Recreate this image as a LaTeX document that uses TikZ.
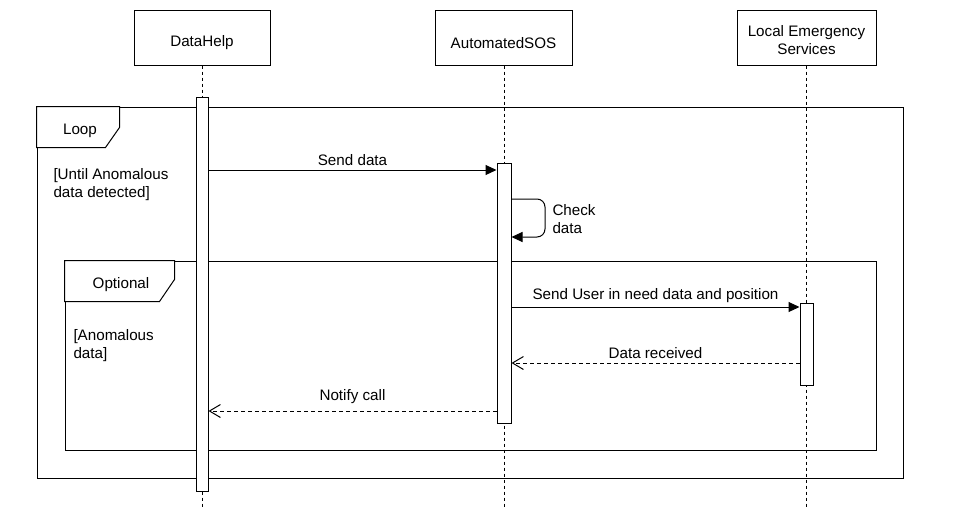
\documentclass[tikz,border=0pt]{standalone}
\usepackage{fontspec}
\setmainfont{Liberation Sans}
\usetikzlibrary{arrows.meta}
\begin{document}
\begin{tikzpicture}[x=1pt,y=-1pt,line width=1pt,
  txt/.style={font=\fontsize{15.2}{18}\selectfont, inner sep=0pt},
  actor/.style={draw, fill=white, minimum height=55pt, inner sep=0pt},
  bar/.style={draw, fill=white, inner sep=0pt},
  life/.style={dash pattern=on 3pt off 3pt},
  frame/.style={draw, inner sep=0pt},
  tab/.style={draw, fill=white},
  msg/.style={-{Triangle[length=11pt,width=10pt]}},
  reply/.style={dash pattern=on 4pt off 3pt, -{Straight Barb[length=11pt,width=13pt]}},
  mlabel/.style={txt, above=4pt}]
\useasboundingbox (0,0) rectangle (971,509);

% frames
\node[frame, minimum width=866pt, minimum height=371pt] (loop) at (470,292.5) {};
\draw[tab] (loop.north west) -- ++(83,0) -- ++(0,21) -- ++(-14,20) -- ++(-69,0) -- cycle;
\node[txt] (loopTitle) at (80,131) {Loop};
\node[txt, anchor=north west, align=left] (loopGuard) at (53,168) {[Until Anomalous\\data detected]};

\node[frame, minimum width=811pt, minimum height=189pt] (opt) at (470.5,355.5) {};
\draw[tab] (opt.north west) -- ++(110,0) -- ++(0,19) -- ++(-15,22) -- ++(-95,0) -- cycle;
\node[txt] (optTitle) at (121,285) {Optional};
\node[txt, anchor=north west, align=left] (optGuard) at (73,329) {[Anomalous\\data]};

% actors
\node[actor, minimum width=136pt] (dh) at (202,37.5) {};
\node[actor, minimum width=137pt] (sos) at (503.5,37.5) {};
\node[actor, minimum width=139pt] (les) at (806.5,37.5) {};
\node[txt] (dhT) at (202,43) {DataHelp};
\node[txt] (sosT) at (503.5,43) {AutomatedSOS};
\node[txt, align=center] (lesT) at (806.5,40.5) {Local Emergency\\Services};

% lifelines
\coordinate (dhEnd) at (202,509);
\coordinate (sosEnd) at (504,509);
\coordinate (lesEnd) at (806.5,509);
\draw[life] (dh.south) -- (dhEnd);
\draw[life] (sos.south -| sosEnd) -- (sosEnd);
\draw[life] (les.south) -- (lesEnd);

% activations
\node[bar, minimum width=12pt, minimum height=394pt] (dhAct) at (202,294) {};
\node[bar, minimum width=14pt, minimum height=260pt] (sosAct) at (504,293) {};
\node[bar, minimum width=13pt, minimum height=82pt] (lesAct) at (806.5,344) {};

% message levels
\coordinate (y1) at (0,170);
\coordinate (y2) at (0,199);
\coordinate (y3) at (0,237);
\coordinate (y4) at (0,307);
\coordinate (y5) at (0,363);
\coordinate (y6) at (0,411);
\coordinate (selfR) at (545,0);

\draw[msg] (dhAct.east |- y1) -- node[mlabel] (l1) {Send data} (sosAct.west |- y1);
\draw[msg, rounded corners=8pt] (sosAct.east |- y2) -- (selfR |- y2) -- (selfR |- y3) -- (sosAct.east |- y3);
\node[txt, anchor=west, align=left] (l2) at (552,219) {Check\\data};
\draw[msg] (sosAct.east |- y4) -- node[mlabel] (l3) {Send User in need data and position} (lesAct.west |- y4);
\draw[reply] (lesAct.west |- y5) -- node[mlabel] (l4) {Data received} (sosAct.east |- y5);
\draw[reply] (sosAct.west |- y6) -- node[mlabel, above=3pt] (l5) {Notify call} (dhAct.east |- y6);
\end{tikzpicture}
\end{document}
